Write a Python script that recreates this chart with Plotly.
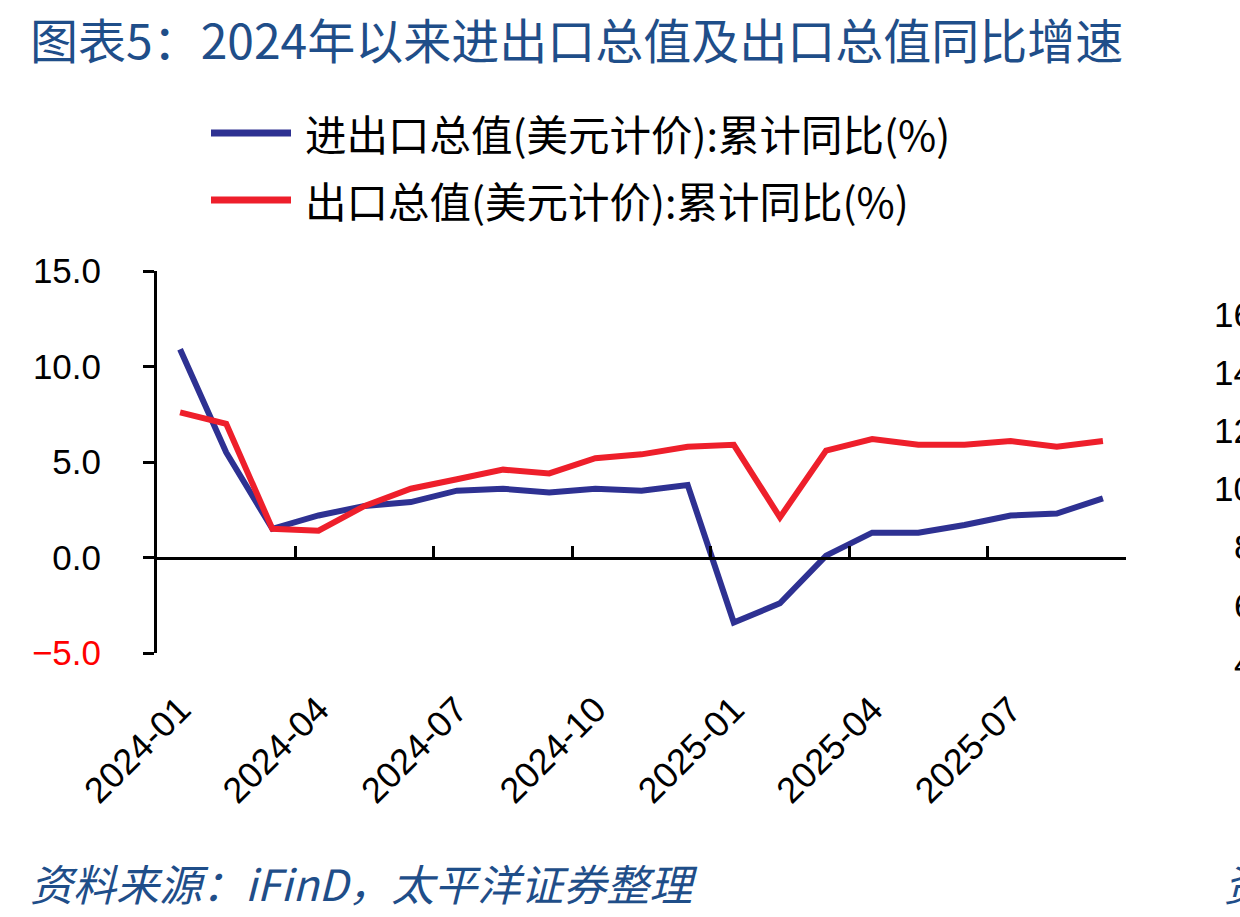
import plotly.graph_objects as go

# ---------------- data ----------------
months = ["2024-01", "2024-02", "2024-03", "2024-04", "2024-05", "2024-06",
          "2024-07", "2024-08", "2024-09", "2024-10", "2024-11", "2024-12",
          "2025-01", "2025-02", "2025-03", "2025-04", "2025-05", "2025-06",
          "2025-07", "2025-08", "2025-09"]
total_trade_yoy = [10.9, 5.5, 1.5, 2.2, 2.7, 2.9, 3.5, 3.6, 3.4, 3.6, 3.5, 3.8,
                   -3.4, -2.4, 0.1, 1.3, 1.3, 1.7, 2.2, 2.3, 3.1]
export_yoy = [7.6, 7.0, 1.5, 1.4, 2.7, 3.6, 4.1, 4.6, 4.4, 5.2, 5.4, 5.8,
              5.9, 2.1, 5.6, 6.2, 5.9, 5.9, 6.1, 5.8, 6.1]
series_names = ["进出口总值(美元计价):累计同比(%)", "出口总值(美元计价):累计同比(%)"]
y_tick_vals = [-5, 0, 5, 10, 15]
y_tick_text = ["−5.0", "0.0", "5.0", "10.0", "15.0"]
neighbor_tick_text = ["16", "14", "12", "10", "8", "6", "4"]
title_text = "图表5：2024年以来进出口总值及出口总值同比增速"
source_text = "资料来源：iFinD，太平洋证券整理"

# ---------------- styles ----------------
W, H = 1240, 917
L, R, T, B = 157, 1126, 271, 653          # plot area in page pixels
BLUE = "#2E3192"
RED = "#EE1F2B"
TEXT_BLUE = "#1F4E89"
NUM_FONT = "Liberation Sans, Arial, sans-serif"
CJK_FONT = "Noto Sans CJK SC, sans-serif"
y_min, y_max = -5, 15


def px(x):
    return (x - L) / (R - L)


def py(y):
    return (B - y) / (B - T)


fig = go.Figure()
for name, vals, col in [(series_names[0], total_trade_yoy, BLUE),
                        (series_names[1], export_yoy, RED)]:
    fig.add_trace(go.Scatter(x=months, y=vals, name=name, mode="lines",
                             line=dict(color=col, width=6), showlegend=False,
                             xaxis="x", yaxis="y"))
# helper trace so the zero-line tick axis is drawn
fig.add_trace(go.Scatter(x=[None], y=[None], xaxis="x2", yaxis="y",
                         showlegend=False, hoverinfo="skip"))

y_tick_labels = [('<span style="color:#FF0000">%s</span>' % t) if v < 0 else t
                 for v, t in zip(y_tick_vals, y_tick_text)]

n = len(months)
fig.update_layout(
    width=W, height=H, autosize=False,
    margin=dict(l=L, r=W - R, t=T, b=H - B, pad=0),
    plot_bgcolor="white", paper_bgcolor="white",
    xaxis=dict(type="category", categoryorder="array", categoryarray=months,
               range=[-0.5, n - 0.5], showline=False, showgrid=False, zeroline=False,
               ticks="", tickmode="array", tickvals=months[::3], ticktext=months[::3],
               tickangle=-45, ticklabelstandoff=27,
               tickfont=dict(family=NUM_FONT, size=36, color="black")),
    xaxis2=dict(type="linear", overlaying="x", anchor="free",
                position=(0 - y_min) / (y_max - y_min),
                range=[-0.5, n - 0.5], showline=True, linecolor="black", linewidth=3,
                showgrid=False, zeroline=False, ticks="inside", ticklen=11,
                tickwidth=3, tickcolor="black", tickmode="array",
                tickvals=[i - 0.5 for i in range(0, n + 1, 3)], showticklabels=False),
    yaxis=dict(range=[y_min, y_max], showline=True, linecolor="black", linewidth=3,
               showgrid=False, zeroline=False, ticks="outside", ticklen=11,
               tickwidth=3, tickcolor="black", tickmode="array",
               tickvals=y_tick_vals, ticktext=y_tick_labels, ticklabelstandoff=35,
               tickfont=dict(family=NUM_FONT, size=35, color="black")),
)

# title
fig.add_annotation(text=title_text, xref="paper", yref="paper", x=px(28), y=py(38),
                   xanchor="left", yanchor="middle", showarrow=False,
                   font=dict(family=CJK_FONT, size=48, color=TEXT_BLUE))

# custom legend
for i, (name, col) in enumerate([(series_names[0], BLUE), (series_names[1], RED)]):
    yy = 133 + i * 67
    fig.add_shape(type="line", xref="paper", yref="paper",
                  x0=px(211), x1=px(291), y0=py(yy), y1=py(yy),
                  line=dict(color=col, width=7))
    fig.add_annotation(text=name, xref="paper", yref="paper", x=px(303), y=py(yy),
                       xanchor="left", yanchor="middle", showarrow=False,
                       font=dict(family=CJK_FONT, size=41.5, color="black"))

# source note
fig.add_annotation(text="<i>%s</i>" % source_text, xref="paper", yref="paper",
                   x=px(28), y=py(882), xanchor="left", yanchor="middle", showarrow=False,
                   font=dict(family=CJK_FONT, size=43, color=TEXT_BLUE))

# fragments of the neighbouring chart cut by the right edge
for k, t in enumerate(neighbor_tick_text):
    fig.add_annotation(text=t, xref="paper", yref="paper", x=px(1255),
                       y=py(314 + k * 58.2), xanchor="right", yanchor="middle",
                       showarrow=False, font=dict(family=NUM_FONT, size=35, color="black"))
fig.add_annotation(text="<i>资</i>", xref="paper", yref="paper", x=px(1222), y=py(882),
                   xanchor="left", yanchor="middle", showarrow=False,
                   font=dict(family=CJK_FONT, size=43, color=TEXT_BLUE))

fig.write_html("out.html")
